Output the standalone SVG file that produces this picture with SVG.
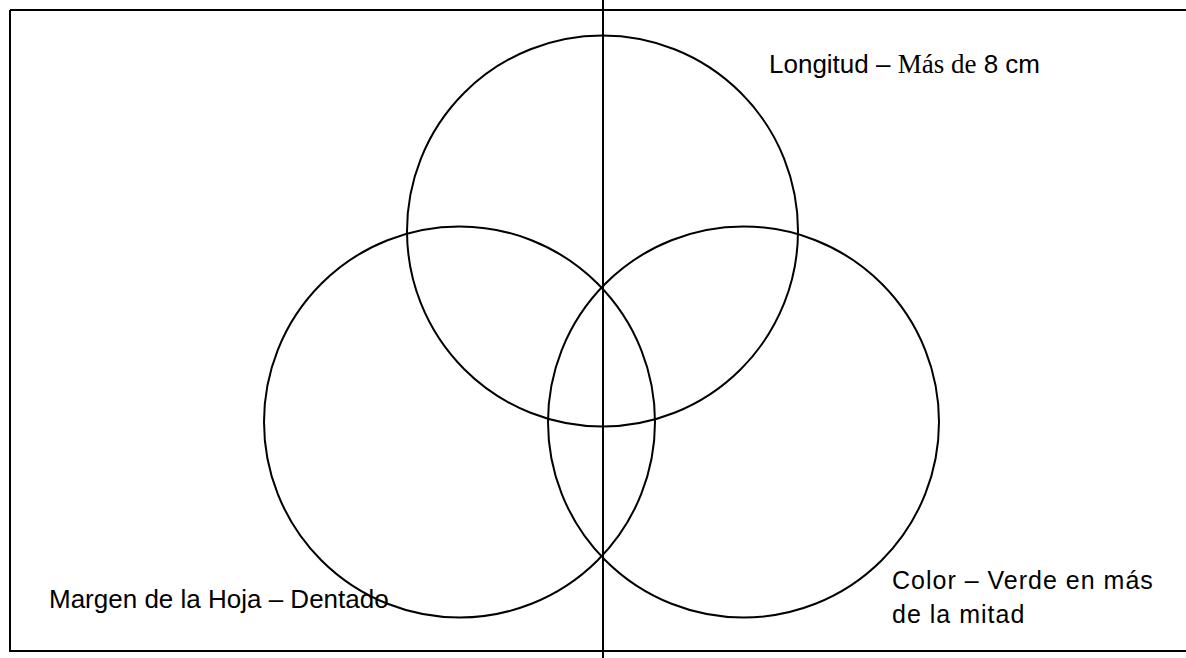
<svg xmlns="http://www.w3.org/2000/svg" width="1186" height="658" viewBox="0 0 1186 658">
<style>
.c{fill:none;stroke:#000;stroke-width:2}
.t{font-family:"Liberation Sans",Arial,sans-serif;font-size:26px;fill:#000}
.r{font-size:25px;letter-spacing:1px}
.s{font-family:"Liberation Serif","Times New Roman",serif;font-size:27px}
</style>
<rect x="0" y="0" width="1186" height="658" fill="#fff"/>
<g id="frame"><path class="c" d="M10,10 H1188 M10,10 V651 H1188"/></g>
<g id="axis"><line class="c" x1="603" y1="0" x2="603" y2="658"/></g>
<g id="circle-longitud"><circle class="c" cx="602.5" cy="231" r="195.5"/>
<text class="t" x="769" y="73">Longitud – <tspan class="s">Más de</tspan> 8 cm</text></g>
<g id="circle-margen"><circle class="c" cx="459.5" cy="422" r="195.5"/>
<text class="t" x="49" y="608">Margen de la Hoja – Dentado</text></g>
<g id="circle-color"><circle class="c" cx="743.5" cy="422" r="195.5"/>
<text class="t r" x="892" y="589">Color – Verde en más</text>
<text class="t r" x="892" y="623">de la mitad</text></g>
</svg>
